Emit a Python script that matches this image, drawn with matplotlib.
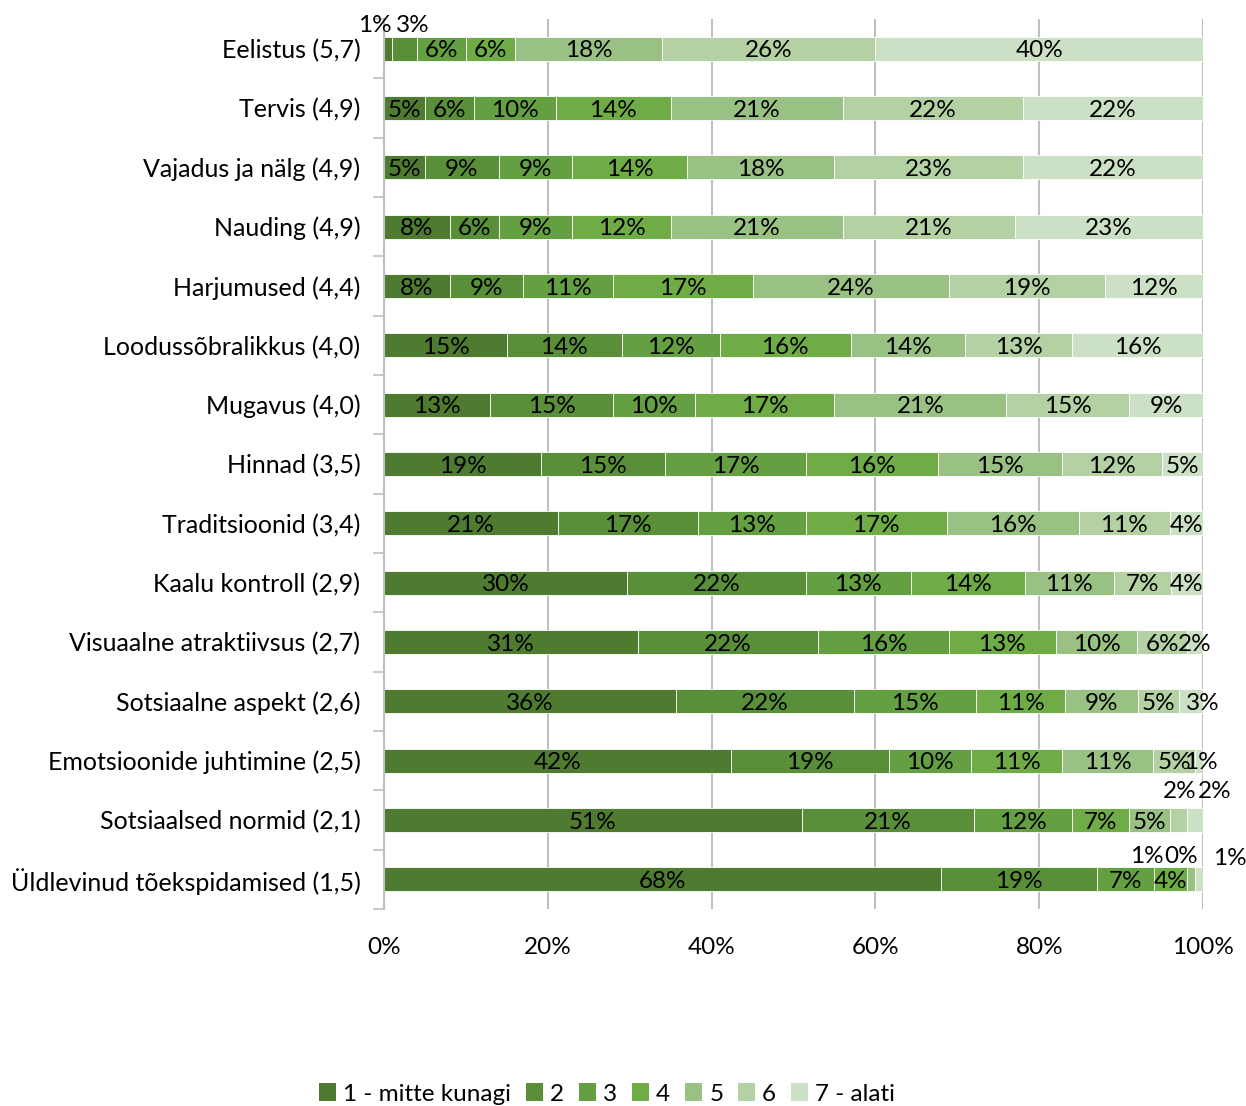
import matplotlib
matplotlib.use("Agg")
import matplotlib.pyplot as plt
import numpy as np
from matplotlib.patches import Patch

categories = [
    "Eelistus (5,7)", "Tervis (4,9)", "Vajadus ja nälg (4,9)", "Nauding (4,9)",
    "Harjumused (4,4)", "Loodussõbralikkus (4,0)", "Mugavus (4,0)", "Hinnad (3,5)",
    "Traditsioonid (3,4)", "Kaalu kontroll (2,9)", "Visuaalne atraktiivsus (2,7)",
    "Sotsiaalne aspekt (2,6)", "Emotsioonide juhtimine (2,5)", "Sotsiaalsed normid (2,1)",
    "Üldlevinud tõekspidamised (1,5)",
]
series_names = ["1 - mitte kunagi", "2", "3", "4", "5", "6", "7 - alati"]
s1 = [1, 5, 5, 8, 8, 15, 13, 19, 21, 30, 31, 36, 42, 51, 68]
s2 = [3, 6, 9, 6, 9, 14, 15, 15, 17, 22, 22, 22, 19, 21, 19]
s3 = [6, 10, 9, 9, 11, 12, 10, 17, 13, 13, 16, 15, 10, 12, 7]
s4 = [6, 14, 14, 12, 17, 16, 17, 16, 17, 14, 13, 11, 11, 7, 4]
s5 = [18, 21, 18, 21, 24, 14, 21, 15, 16, 11, 10, 9, 11, 5, 1]
s6 = [26, 22, 23, 21, 19, 13, 15, 12, 11, 7, 6, 5, 5, 2, 0]
s7 = [40, 22, 22, 23, 12, 16, 9, 5, 4, 4, 2, 3, 1, 2, 1]
xticklabels = ["0%", "20%", "40%", "60%", "80%", "100%"]

colors = ["#4e7b30", "#5a8f3a", "#64a041", "#6fac46", "#99c184", "#b3d1a2", "#cce0c5"]

# label offsets in pixels (row, series) -> (dx, dy)
offsets = {
    (0, 0): (-13, 25), (0, 1): (8, 25),
    (11, 6): (12, 0),
    (12, 6): (2, 0),
    (13, 5): (1, 31), (13, 6): (20, 31),
    (14, 4): (-44, 25), (14, 5): (-14, 25), (14, 6): (31, 23),
}

plt.rcParams['font.family'] = ['Lato', 'DejaVu Sans']
FS = 17.5

fig = plt.figure(figsize=(12.46, 11.06), dpi=100)
ax = fig.add_axes([384/1246, 1 - 909/1106, (1203-384)/1246, (909-19)/1106])

data = np.array([s1, s2, s3, s4, s5, s6, s7], dtype=float)
tot = data.sum(axis=0)
norm = data / tot * 100
n = len(categories)
y = np.arange(n)
left = np.zeros(n)
for k in range(7):
    ax.barh(y, norm[k], left=left, height=0.4, color=colors[k],
            edgecolor="white", linewidth=0.6, zorder=3)
    for i in range(n):
        cx = left[i] + norm[k][i] / 2
        dx, dy = offsets.get((i, k), (0, 0))
        ax.annotate(f"{int(data[k][i])}%", (cx, y[i]), xytext=(dx, dy - 2),
                    textcoords="offset pixels", ha="center", va="center",
                    fontsize=FS, color="black", zorder=5, annotation_clip=False)
    left += norm[k]

ax.set_ylim(n - 0.5, -0.5)
ax.set_xlim(0, 100)
ax.set_yticks(y)
ax.set_yticklabels(categories, fontsize=18)
ax.tick_params(axis='y', which='major', length=0, pad=17)
ax.set_yticks(np.arange(-0.5, n, 1), minor=True)
ax.tick_params(axis='y', which='minor', length=8, color="#bfbfbf", width=1.2)
ax.set_xticks([0, 20, 40, 60, 80, 100])
ax.set_xticklabels(xticklabels, fontsize=FS)
ax.tick_params(axis='x', length=0, pad=20)
ax.grid(axis='x', color="#bfbfbf", linewidth=1.5, zorder=0)
for s in ["top", "right", "bottom"]:
    ax.spines[s].set_visible(False)
ax.spines["left"].set_color("#bfbfbf")
ax.spines["left"].set_linewidth(1.5)
ax.spines["left"].set_zorder(4)

handles = [Patch(facecolor=c, edgecolor="none") for c in colors]
fig.legend(handles, series_names, loc="center", bbox_to_anchor=(607/1246, 1 - 1094/1106),
           ncol=7, frameon=False, fontsize=FS, handlelength=0.7, handleheight=0.7,
           handletextpad=0.3, columnspacing=0.6)

fig.savefig("out.png", dpi=100)
